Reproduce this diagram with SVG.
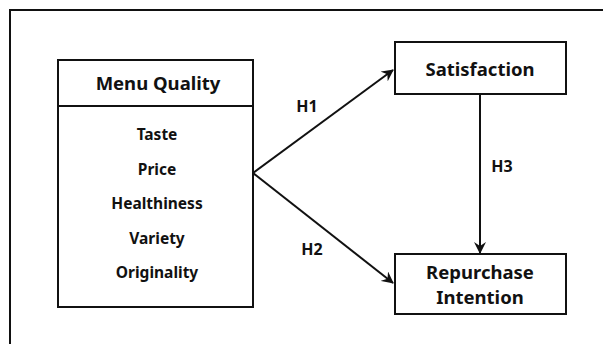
<svg xmlns="http://www.w3.org/2000/svg" width="603" height="344" viewBox="0 0 603 344">
<style>
.box{fill:#fff;stroke:#111;stroke-width:2}
.t{font-family:"Noto Sans","Open Sans",sans-serif;font-weight:bold;fill:#111;text-anchor:middle}
.h{font-size:18.5px}
.i{font-size:15.5px}
.lbl{font-size:16px}
.c{stroke:#111;stroke-width:2;fill:none;marker-end:url(#ah)}
</style>
<defs>
<marker id="ah" viewBox="0 0 12 12" refX="11" refY="6" markerWidth="12" markerHeight="12" markerUnits="userSpaceOnUse" orient="auto">
<path d="M0,0 L12,6 L0,12 L4,6 Z" fill="#111"/>
</marker>
</defs>
<rect x="10" y="10" width="610" height="350" fill="#fff" stroke="#111" stroke-width="2"/>
<g id="menu-quality">
<rect class="box" x="58" y="60" width="195" height="247"/>
<line x1="58" y1="106" x2="253" y2="106" stroke="#111" stroke-width="2"/>
<text class="t h" x="158" y="90">Menu Quality</text>
<text class="t i" x="157" y="140">Taste</text>
<text class="t i" x="157" y="175">Price</text>
<text class="t i" x="157" y="209">Healthiness</text>
<text class="t i" x="157" y="244">Variety</text>
<text class="t i" x="157" y="278">Originality</text>
</g>
<g id="satisfaction">
<rect class="box" x="395" y="42" width="171" height="52"/>
<text class="t h" x="480" y="76">Satisfaction</text>
</g>
<g id="repurchase-intention">
<rect class="box" x="395" y="254" width="171" height="60"/>
<text class="t h" x="480" y="279">Repurchase</text>
<text class="t h" x="480" y="304">Intention</text>
</g>
<g id="connectors">
<line class="c" x1="253" y1="173" x2="393" y2="70"/>
<line class="c" x1="253" y1="173" x2="393" y2="283"/>
<line class="c" x1="480" y1="94" x2="480" y2="253"/>
<text class="t lbl" x="307" y="112">H1</text>
<text class="t lbl" x="312" y="255">H2</text>
<text class="t lbl" x="502" y="172">H3</text>
</g>
</svg>
